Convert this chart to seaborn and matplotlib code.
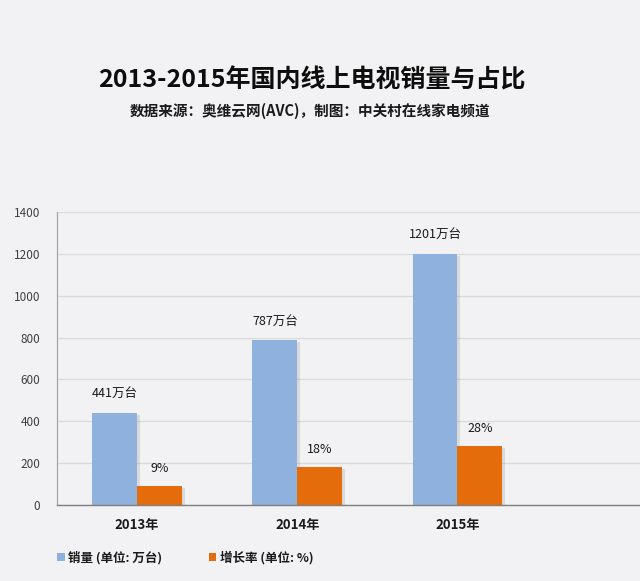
import matplotlib
matplotlib.use("Agg")
import matplotlib.pyplot as plt
import matplotlib.patheffects as pe
from matplotlib.patches import Patch
import seaborn as sns
import pandas as pd

years = ["2013年", "2014年", "2015年"]
sales = [441, 787, 1201]              # 销量 (万台)
growth_bar = [90, 180, 280]           # 增长率 bar heights on chart scale
sales_labels = ["441万台", "787万台", "1201万台"]
growth_labels = ["9%", "18%", "28%"]
series = ["销量 (单位: 万台)", "增长率 (单位: %)"]
yticks = [0, 200, 400, 600, 800, 1000, 1200, 1400]

colors = ["#8EB1DE", "#E46C0A"]
bg = "#F2F2F4"

sns.set_theme(style="white")
plt.rcParams["font.family"] = ["Noto Sans CJK SC", "DejaVu Sans"]

df = pd.DataFrame({
    "year": years * 2,
    "value": sales + growth_bar,
    "series": [series[0]] * 3 + [series[1]] * 3,
})

fig = plt.figure(figsize=(6.4, 5.81), dpi=100, facecolor=bg)
ax = fig.add_axes([57 / 640, 76 / 581, 583 / 640, 293 / 581])
ax.set_facecolor(bg)

sns.barplot(data=df, x="year", y="value", hue="series", order=years,
            hue_order=series, palette=colors, width=0.56, ax=ax,
            saturation=1, legend=False, edgecolor="none")

shadow = [pe.SimplePatchShadow(offset=(2, -1.5), alpha=0.15, shadow_rgbFace="#555555"), pe.Normal()]
for p in ax.patches:
    p.set_path_effects(shadow)

ax.set_xlim(-0.5, 3.14)
ax.set_ylim(0, 1400)
ax.set_yticks(yticks)
ax.set_yticklabels([str(v) for v in yticks], fontsize=8.5, color="#404040")
ax.set_xlabel("")
ax.set_ylabel("")
for lbl in ax.get_xticklabels():
    lbl.set_fontweight("bold")
    lbl.set_fontsize(9.5)
    lbl.set_color("#1a1a1a")
ax.tick_params(axis="x", length=0, pad=9)
ax.tick_params(axis="y", length=0, pad=12)
ax.yaxis.grid(True, color="#DADADA", linewidth=0.9)
ax.set_axisbelow(True)
for s in ["top", "right"]:
    ax.spines[s].set_visible(False)
ax.spines["left"].set_color("#A6A6A6")
ax.spines["bottom"].set_color("#7F7F7F")
ax.spines["left"].set_linewidth(0.9)
ax.spines["bottom"].set_linewidth(1.0)

# data labels
n = len(years)
blue_bars = ax.patches[:n]
orange_bars = ax.patches[n:2 * n]
for bar, txt in zip(blue_bars, sales_labels):
    ax.annotate(txt, (bar.get_x() + bar.get_width() / 2, bar.get_height()),
                xytext=(0, 9), textcoords="offset points", ha="center",
                va="bottom", fontsize=9, color="#1a1a1a")
for bar, txt in zip(orange_bars, growth_labels):
    ax.annotate(txt, (bar.get_x() + bar.get_width() / 2, bar.get_height()),
                xytext=(0, 8), textcoords="offset points", ha="center",
                va="bottom", fontsize=9, color="#1a1a1a")

fig.text(312 / 640, 1 - 80 / 581, "2013-2015年国内线上电视销量与占比",
         ha="center", va="center", fontsize=18, fontweight="bold", color="#0d0d0d")
fig.text(310 / 640, 1 - 111 / 581, "数据来源：奥维云网(AVC)，制图：中关村在线家电频道",
         ha="center", va="center", fontsize=10.5, fontweight="bold", color="#1a1a1a")

handles = [Patch(facecolor=c, edgecolor="none") for c in colors]
leg = fig.legend(handles, series, loc="center left",
                 bbox_to_anchor=(46 / 640, 1 - 558 / 581), ncol=2, frameon=False,
                 handlelength=0.6, handleheight=0.6, handletextpad=0.3,
                 columnspacing=3.7, prop={"size": 9, "weight": "bold"})
for t in leg.get_texts():
    t.set_color("#1a1a1a")

fig.savefig("out.png", dpi=100, facecolor=bg)
